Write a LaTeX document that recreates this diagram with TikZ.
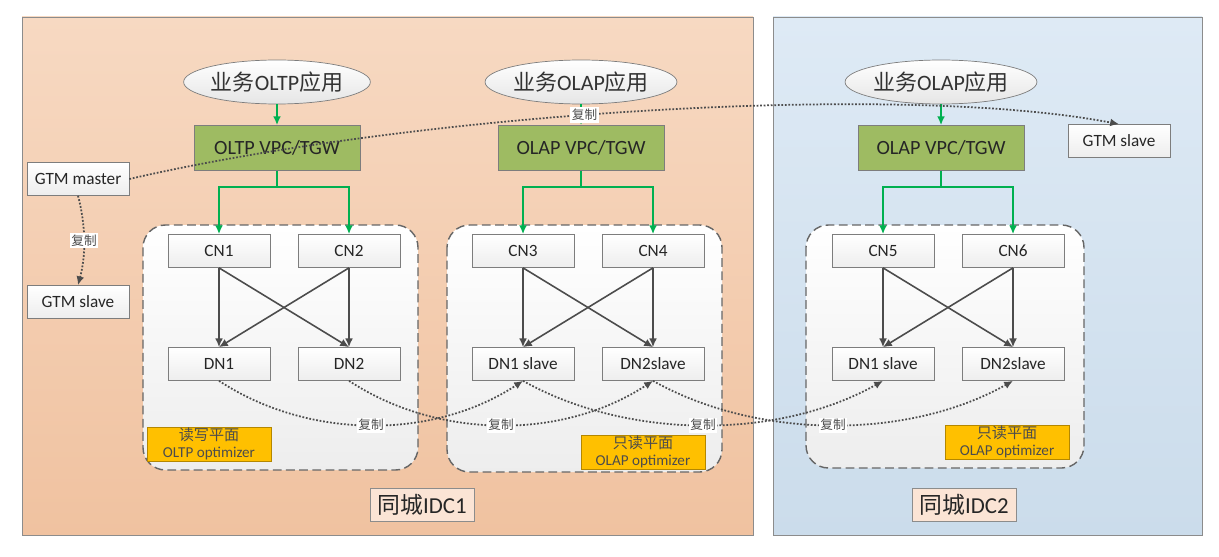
\documentclass[tikz,border=0pt]{standalone}
\usepackage{fontspec}
\setmainfont{Carlito}
\newfontfamily\cjk{Noto Sans CJK SC}
\usepackage{xcolor}
\usetikzlibrary{shapes.geometric}
\usetikzlibrary{positioning}
\usetikzlibrary{arrows.meta}
\definecolor{peachtop}{RGB}{247,217,194}
\definecolor{peachbot}{RGB}{240,194,160}
\definecolor{bluetop}{RGB}{222,234,245}
\definecolor{bluebot}{RGB}{203,220,235}
\definecolor{vpcgreen}{RGB}{158,187,98}
\definecolor{linkgreen}{RGB}{0,176,80}
\definecolor{optorange}{RGB}{255,192,0}
\definecolor{optedge}{RGB}{180,135,0}
\definecolor{idcpeach}{RGB}{251,228,213}
\definecolor{edgegray}{RGB}{125,125,125}

\begin{document}
\begin{tikzpicture}[x=0.02cm, y=-0.02cm, >={Latex[length=5pt,width=4.5pt]},
    box/.style={draw=edgegray, rectangle, top color=white, bottom color=black!7, minimum width=2.04cm, minimum height=0.66cm, inner sep=1pt, text=black!85, font=\fontsize{9.8}{11}\selectfont},
    vpc/.style={draw=edgegray, rectangle, fill=vpcgreen, minimum width=3.32cm, minimum height=0.9cm, inner sep=1pt, text=black!85, font=\fontsize{11.5}{13}\selectfont},
    app/.style={draw=edgegray, ellipse, top color=white, bottom color=black!10, minimum width=3.46cm, minimum height=0.88cm, inner sep=0pt, text=black!80, font=\fontsize{12.5}{14}\selectfont},
    opt/.style={draw=optedge, rectangle, fill=optorange, minimum width=2.48cm, minimum height=0.68cm, inner sep=0pt, align=center, text=black!70, font=\fontsize{8.6}{9.6}\selectfont},
    grp/.style={draw=black!60, dash pattern=on 5pt off 2.5pt, line width=0.8pt, rounded corners=0.45cm, top color=white, bottom color=black!7},
    idc/.style={draw=black!45, rectangle, fill=idcpeach, minimum width=2.08cm, minimum height=0.66cm, inner sep=1pt, text=black!85, font=\fontsize{13}{15}\selectfont},
    feed/.style={->, draw=linkgreen, line width=1pt},
    cnlink/.style={->, draw=black!70, line width=0.9pt},
    replica/.style={->, draw=black!70, densely dotted, line width=1pt},
    replicatag/.style={fill=white, inner sep=1pt, text=black!70, font=\cjk\fontsize{7.2}{8}\selectfont}]

    \useasboundingbox (0,0) rectangle (1219,557);
    \fill[white] (0,0) rectangle (1219,557);

    % two sites
    \draw[draw=black!45, top color=peachtop, bottom color=peachbot] (22,17) rectangle (753,535);
    \draw[draw=black!45, top color=bluetop, bottom color=bluebot] (773,17) rectangle (1202,535);
    \draw[grp] (143,225) rectangle (418,470);
    \draw[grp] (447,225) rectangle (722,472);
    \draw[grp] (806,225) rectangle (1084,468);

    \node[app] (app1) at (277,82) {{\cjk 业务}OLTP{\cjk 应用}};
    \node[app] (app2) at (581,82) {{\cjk 业务}OLAP{\cjk 应用}};
    \node[app] (app3) at (941,82) {{\cjk 业务}OLAP{\cjk 应用}};

    \node[vpc] (vpc1) at (277,148) {OLTP VPC/TGW};
    \node[vpc] (vpc2) at (581,148) {OLAP VPC/TGW};
    \node[vpc] (vpc3) at (941,148) {OLAP VPC/TGW};

    \node[box] (gtmm) at (78,179) {GTM master};
    \node[box] (gtms1) at (78,302) {GTM slave};
    \node[box] (gtms2) at (1119,141) {GTM slave};

    \node[box] (cn1) at (219,251) {CN1};
    \node[box] (cn2) at (349,251) {CN2};
    \node[box] (cn3) at (523,251) {CN3};
    \node[box] (cn4) at (653,251) {CN4};
    \node[box] (cn5) at (883,251) {CN5};
    \node[box] (cn6) at (1013,251) {CN6};

    \node[box] (dn1) at (219,364) {DN1};
    \node[box] (dn2) at (349,364) {DN2};
    \node[box] (dn3) at (523,364) {DN1 slave};
    \node[box] (dn4) at (653,364) {DN2slave};
    \node[box] (dn5) at (883,364) {DN1 slave};
    \node[box] (dn6) at (1013,364) {DN2slave};

    \node[opt] (opt1) at (209,444) {{\cjk 读写平面}\\OLTP optimizer};
    \node[opt] (opt2) at (643,452) {{\cjk 只读平面}\\OLAP optimizer};
    \node[opt] (opt3) at (1007,442) {{\cjk 只读平面}\\OLAP optimizer};

    \node[idc] (idc1) at (422,505) {{\cjk 同城}IDC1};
    \node[idc] (idc2) at (964,505) {{\cjk 同城}IDC2};

    \draw[feed] (app1) -- (vpc1);
    \draw[feed] (app2) -- (vpc2);
    \draw[feed] (app3) -- (vpc3);
    \draw[feed] (vpc1.south) -- ++(0,16) -| (cn1.north);
    \draw[feed] (vpc1.south) -- ++(0,16) -| (cn2.north);
    \draw[feed] (vpc2.south) -- ++(0,16) -| (cn3.north);
    \draw[feed] (vpc2.south) -- ++(0,16) -| (cn4.north);
    \draw[feed] (vpc3.south) -- ++(0,16) -| (cn5.north);
    \draw[feed] (vpc3.south) -- ++(0,16) -| (cn6.north);

    \draw[cnlink] (cn1.south) -- (dn1.north);
    \draw[cnlink] (cn1.south) -- (dn2.north);
    \draw[cnlink] (cn2.south) -- (dn1.north);
    \draw[cnlink] (cn2.south) -- (dn2.north);
    \draw[cnlink] (cn3.south) -- (dn3.north);
    \draw[cnlink] (cn3.south) -- (dn4.north);
    \draw[cnlink] (cn4.south) -- (dn3.north);
    \draw[cnlink] (cn4.south) -- (dn4.north);
    \draw[cnlink] (cn5.south) -- (dn5.north);
    \draw[cnlink] (cn5.south) -- (dn6.north);
    \draw[cnlink] (cn6.south) -- (dn5.north);
    \draw[cnlink] (cn6.south) -- (dn6.north);

    % replication
    \draw[replica] (dn1.south) .. controls +(90,59) and +(-90,59) .. (dn3.south) node[pos=0.5, replicatag] {复制};
    \draw[replica] (dn2.south) .. controls +(90,59) and +(-90,59) .. (dn4.south) node[pos=0.5, replicatag] {复制};
    \draw[replica] (dn3.south) .. controls +(105,59) and +(-105,59) .. (dn5.south) node[pos=0.5, replicatag] {复制};
    \draw[replica] (dn4.south) .. controls +(105,59) and +(-105,59) .. (dn6.south) node[pos=0.5, replicatag] {复制};
    \draw[replica] (gtmm.east) .. controls (420,112) and (900,82) .. (gtms2.north) node[pos=0.44, replicatag] {复制};
    \draw[replica] (gtmm.south) .. controls +(8,30) and +(8,-30) .. (gtms1.north) node[pos=0.5, replicatag] {复制};
\end{tikzpicture}
\end{document}
